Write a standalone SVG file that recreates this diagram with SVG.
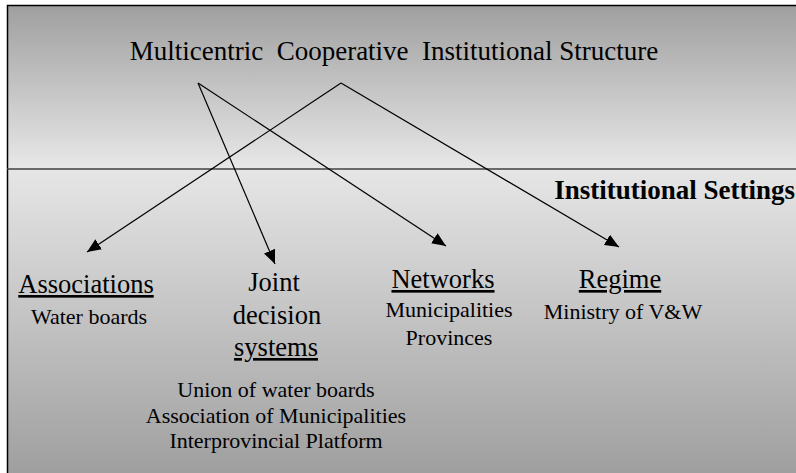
<svg xmlns="http://www.w3.org/2000/svg" width="796" height="473" viewBox="0 0 796 473">
<style>
.c{stroke:#000;stroke-width:1.2;fill:none;marker-end:url(#arr)}
.h{font-size:26.5px}
.s{font-size:22px}
</style>
<defs>
<linearGradient id="gTop" x1="0" y1="0" x2="0" y2="1">
<stop offset="0" stop-color="#9f9f9f"/>
<stop offset="1" stop-color="#e8e8e8"/>
</linearGradient>
<linearGradient id="gBot" x1="0" y1="0" x2="0" y2="1">
<stop offset="0" stop-color="#e6e6e6"/>
<stop offset="1" stop-color="#9f9f9f"/>
</linearGradient>
<marker id="arr" markerUnits="userSpaceOnUse" markerWidth="14" markerHeight="12" refX="14" refY="6" orient="auto">
<path d="M0,0 L14,6 L0,12 z" fill="#000"/>
</marker>
</defs>
<rect x="7" y="5" width="789" height="164" fill="url(#gTop)"/>
<rect x="7" y="169" width="789" height="304" fill="url(#gBot)"/>
<path d="M7.5,473 V5.5 H796" fill="none" stroke="#000" stroke-width="1.5"/>
<line x1="7" y1="169" x2="796" y2="169" stroke="#404040" stroke-width="1.5"/>
<g id="connectors">
<line class="c" x1="341" y1="83" x2="87" y2="252"/>
<line class="c" x1="198" y1="83" x2="275" y2="264"/>
<line class="c" x1="198" y1="83" x2="446" y2="246"/>
<line class="c" x1="341" y1="83" x2="619" y2="247"/>
</g>
<g font-family="Liberation Serif, Times New Roman, serif" fill="#000" text-anchor="middle">
<g id="title">
<text font-size="27" x="394" y="60" xml:space="preserve">Multicentric  Cooperative  Institutional Structure</text>
</g>
<g id="settings">
<text font-size="27" font-weight="bold" x="795" y="199" text-anchor="end">Institutional Settings</text>
</g>
<g id="associations">
<text class="h" x="86" y="293" text-decoration="underline">Associations</text>
<text class="s" x="89" y="324">Water boards</text>
</g>
<g id="joint">
<text class="h" x="274" y="291">Joint</text>
<text class="h" x="277" y="324">decision</text>
<text class="h" x="276" y="356" text-decoration="underline">systems</text>
<text class="s" x="276" y="397">Union of water boards</text>
<text class="s" x="276" y="423">Association of Municipalities</text>
<text class="s" x="276" y="448">Interprovincial Platform</text>
</g>
<g id="networks">
<text class="h" x="443" y="288" text-decoration="underline">Networks</text>
<text class="s" x="449" y="317">Municipalities</text>
<text class="s" x="449" y="345">Provinces</text>
</g>
<g id="regime">
<text class="h" x="620" y="288" text-decoration="underline">Regime</text>
<text class="s" x="623" y="319">Ministry of V&amp;W</text>
</g>
</g>
</svg>
